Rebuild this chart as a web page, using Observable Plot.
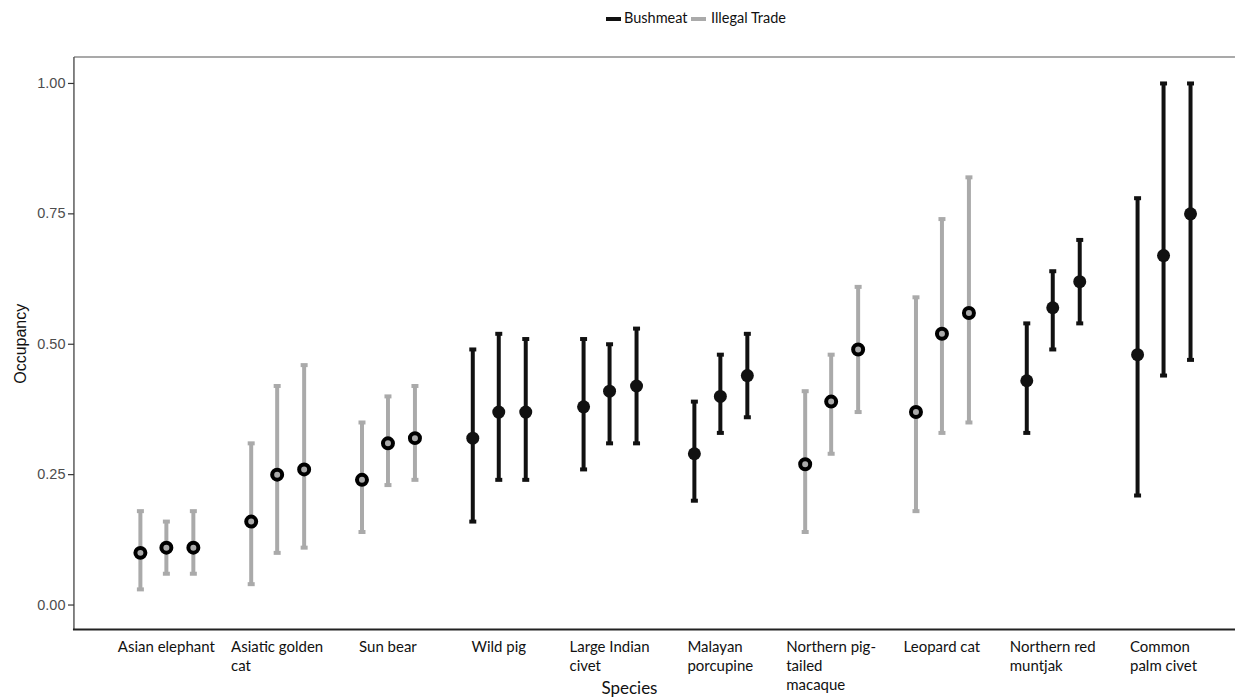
<!DOCTYPE html>
<html>
<head>
<meta charset="utf-8">
<script src="https://cdn.jsdelivr.net/npm/d3@7"></script>
<script src="https://cdn.jsdelivr.net/npm/@observablehq/plot@0.6"></script>
<style>
  html, body { margin: 0; padding: 0; background: #fff; overflow: hidden; }
  #legend { height: 36px; position: relative; font-family: Lato, "Open Sans", sans-serif; font-size: 14.5px; color: #111; }
  .swatch { position: absolute; top: 17px; width: 15px; height: 4px; }
  .lbl { position: absolute; top: 9px; }
</style>
</head>
<body>
<div id="legend">
  <span class="swatch" style="left:606px;background:#111"></span><span class="lbl" style="left:624px">Bushmeat</span>
  <span class="swatch" style="left:691px;background:#aaa"></span><span class="lbl" style="left:711px">Illegal Trade</span>
</div>
<div id="chart"></div>
<script>
const species = ["Asian elephant","Asiatic golden cat","Sun bear","Wild pig","Large Indian civet","Malayan porcupine","Northern pig-tailed macaque","Leopard cat","Northern red muntjak","Common palm civet"];
const speciesLabels = ["Asian elephant","Asiatic golden\ncat","Sun bear","Wild pig","Large Indian\ncivet","Malayan\nporcupine","Northern pig-\ntailed\nmacaque","Leopard cat","Northern red\nmuntjak","Common\npalm civet"];
const threat = ["Illegal Trade","Illegal Trade","Illegal Trade","Bushmeat","Bushmeat","Bushmeat","Illegal Trade","Illegal Trade","Bushmeat","Bushmeat"];
// three estimates per species (left, middle, right)
const estimate = [
  [0.10,0.11,0.11],[0.16,0.25,0.26],[0.24,0.31,0.32],[0.32,0.37,0.37],[0.38,0.41,0.42],
  [0.29,0.40,0.44],[0.27,0.39,0.49],[0.37,0.52,0.56],[0.43,0.57,0.62],[0.48,0.67,0.75]
];
const lower = [
  [0.03,0.06,0.06],[0.04,0.10,0.11],[0.14,0.23,0.24],[0.16,0.24,0.24],[0.26,0.31,0.31],
  [0.20,0.33,0.36],[0.14,0.29,0.37],[0.18,0.33,0.35],[0.33,0.49,0.54],[0.21,0.44,0.47]
];
const upper = [
  [0.18,0.16,0.18],[0.31,0.42,0.46],[0.35,0.40,0.42],[0.49,0.52,0.51],[0.51,0.50,0.53],
  [0.39,0.48,0.52],[0.41,0.48,0.61],[0.59,0.74,0.82],[0.54,0.64,0.70],[0.78,1.00,1.00]
];
const yTicks = [0, 0.25, 0.5, 0.75, 1];

const rows = [];
species.forEach((s, i) => {
  for (let k = 0; k < 3; k++) rows.push({species: s, k, type: threat[i], est: estimate[i][k], lo: lower[i][k], hi: upper[i][k]});
});

const offsets = [-26, 0, 27];
const capSymbol = { draw(ctx) { ctx.moveTo(-3.5,-2); ctx.lineTo(3.5,-2); ctx.lineTo(3.5,2); ctx.lineTo(-3.5,2); ctx.closePath(); } };

const marks = [];
marks.push(Plot.axisY(yTicks, {tickFormat: d3.format(".2f"), fontSize: 14.5, tickSize: 6, tickPadding: 3, stroke: "#333", strokeWidth: 1.2, fill: "#4d4d4d", fontFamily: "Liberation Sans, Arial, sans-serif", label: null}));
for (let k = 0; k < 3; k++) {
  const data = rows.filter(d => d.k === k);
  marks.push(Plot.ruleX(data, {x: "species", y1: "lo", y2: "hi", stroke: "type", strokeWidth: 4, dx: offsets[k]}));
  marks.push(Plot.dot(data, {x: "species", y: "lo", fill: "type", symbol: capSymbol, r: 4, dx: offsets[k]}));
  marks.push(Plot.dot(data, {x: "species", y: "hi", fill: "type", symbol: capSymbol, r: 4, dx: offsets[k]}));
  marks.push(Plot.dot(data.filter(d => d.type === "Illegal Trade"), {x: "species", y: "est", r: 5, fill: "#aaaaaa", stroke: "#000", strokeWidth: 4, dx: offsets[k]}));
  marks.push(Plot.dot(data.filter(d => d.type === "Bushmeat"), {x: "species", y: "est", r: 6.5, fill: "#111", dx: offsets[k]}));
}

// x labels, left-aligned lines, block centered under group
const cv = document.createElement("canvas").getContext("2d");
cv.font = "15px Lato";
species.forEach((s, i) => {
  const lines = speciesLabels[i].split("\n");
  const w = Math.max(...lines.map(l => cv.measureText(l).width));
  marks.push(Plot.text([s], {x: d => d, text: () => speciesLabels[i], frameAnchor: "bottom", textAnchor: "start", lineAnchor: "top", dx: -w / 2, dy: 8, fontSize: 15, fontFamily: "Lato, sans-serif", fill: "#111", lineHeight: 1.27}));
});

const chart = Plot.plot({
  width: 1236,
  height: 663,
  marginLeft: 74,
  marginRight: 0,
  marginTop: 21,
  marginBottom: 69,
  style: {fontFamily: "Lato, sans-serif", background: "#fff", overflow: "visible"},
  x: {type: "point", domain: species, range: [166, 1164], padding: 0, round: false, axis: null},
  y: {domain: [0, 1], range: [569, 47], axis: null},
  color: {domain: ["Bushmeat", "Illegal Trade"], range: ["#111111", "#aaaaaa"]},
  marks
});
document.getElementById("chart").appendChild(chart);

// panel border lines and axis titles
const svg = d3.select(chart);
svg.insert("line", ":first-child").attr("x1", 74).attr("x2", 1236).attr("y1", 21).attr("y2", 21).attr("stroke", "#555").attr("stroke-width", 1.2);
svg.insert("line", ":first-child").attr("x1", 74).attr("x2", 74).attr("y1", 21).attr("y2", 594).attr("stroke", "#333").attr("stroke-width", 1.2);
svg.append("line").attr("x1", 73).attr("x2", 1236).attr("y1", 594).attr("y2", 594).attr("stroke", "#222").attr("stroke-width", 2);
svg.append("text").attr("transform", "translate(26,308) rotate(-90)").attr("text-anchor", "middle").attr("font-family", "Liberation Sans, Arial, sans-serif").attr("font-size", 16).attr("fill", "#111").text("Occupancy");
svg.append("text").attr("x", 630).attr("y", 659).attr("text-anchor", "middle").attr("font-family", "Lato, sans-serif").attr("font-size", 17).attr("fill", "#111").text("Species");
</script>
</body>
</html>
